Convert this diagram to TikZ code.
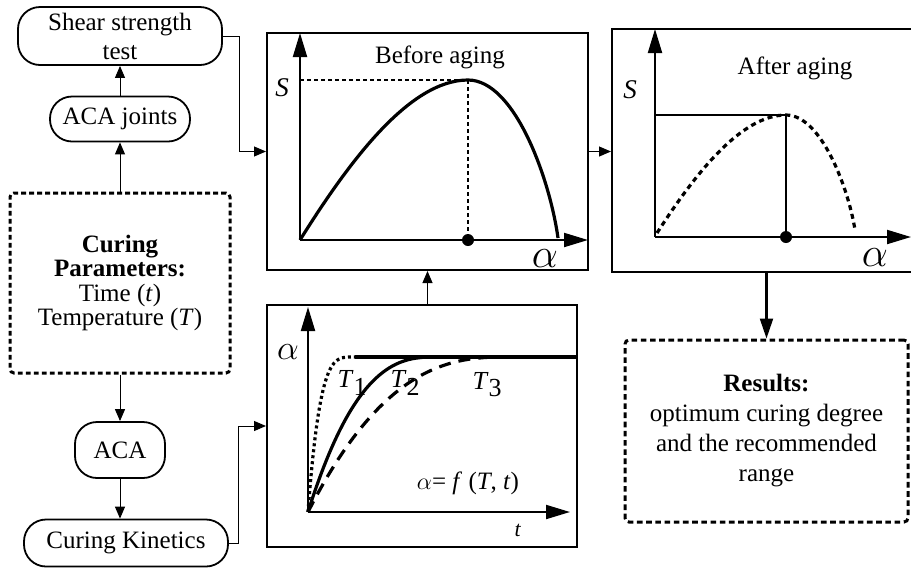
\documentclass[tikz,border=0pt]{standalone}
\usepackage{fontspec}
\setmainfont{Liberation Serif}
\usetikzlibrary{arrows.meta}
\tikzset{
  pill/.style={draw, rectangle, rounded corners=11pt, line width=0.9pt, align=center, inner sep=2pt},
  dashbox/.style={draw, line width=1.5pt, dash pattern=on 2.4pt off 1.6pt, rounded corners=2pt, align=center},
  frame/.style={draw, line width=1pt, inner sep=0pt},
  conn/.style={-{Triangle[length=6pt,width=5pt]}, line width=0.5pt},
  axis/.style={-{Triangle[length=12pt,width=7pt]}, line width=1pt},
  curve/.style={line width=1.6pt},
  dotline/.style={dash pattern=on 2pt off 1.5pt, line width=0.9pt},
}
\begin{document}
\begin{tikzpicture}[x=0.5pt,y=-0.5pt,font=\fontsize{12.5}{14.5}\selectfont]
\useasboundingbox (0,0) rectangle (911,580);
% left column
\node[pill, minimum width=102pt, minimum height=29pt] (shear) at (120,36) {Shear strength\\test};
\node[pill, minimum width=70pt, minimum height=22.5pt] (joints) at (120,119) {ACA joints};
\node[dashbox, minimum width=110pt, minimum height=90pt, font=\fontsize{12.5}{12.2}\selectfont] (param) at (120,283)
  {\textbf{Curing}\\\textbf{Parameters:}\\Time (\textit{t})\\Temperature (\textit{T})};
\node[pill, minimum width=45pt, minimum height=28pt] (aca) at (120,450) {ACA};
\node[pill, minimum width=102pt, minimum height=23.5pt] (kin) at (126,543) {Curing Kinetics};
% frames
\node[frame, minimum width=160.5pt, minimum height=118.5pt] (bplot) at (427.5,151.5) {};
\node[frame, minimum width=150pt, minimum height=121.5pt] (aplot) at (762,150.5) {};
\node[frame, minimum width=155pt, minimum height=121pt] (kplot) at (422,426) {};
\node[dashbox, dash pattern=on 2.8pt off 1.8pt, minimum width=141.5pt, minimum height=91pt, font=\fontsize{12.5}{15}\selectfont] (res) at (766.5,431)
  {\textbf{Results:}\\optimum curing degree\\and the recommended\\range};
% connectors
\draw[conn] (joints) -- (shear);
\draw[conn] (param) -- (joints);
\draw[conn] (param) -- (aca);
\draw[conn] (aca.south) -- (aca.south |- kin.north);
\draw[conn] (shear.east) -- ++(17,0) |- (bplot.west);
\draw[conn] (kin.east) -- ++(10,0) |- (kplot.west);
\draw[conn] (bplot.east) -- (bplot.east -| aplot.west);
\draw[conn] (bplot.south |- kplot.north) -- (bplot.south);
\draw[-{Triangle[length=10pt,width=6.5pt]}, line width=1.1pt] (res.north |- aplot.south) -- (res.north);
% before aging
\begin{scope}[shift={(300,240)}, yscale=-1]
\draw[axis] (0,0) -- (0,207);
\draw[axis] (0,0) -- (288,0);
\node[font=\fontsize{13.5}{13.5}\selectfont] at (-18,152) {\textit{S}};
\node[font=\fontsize{20}{20}\selectfont] at (245,-19) {$\alpha$};
\node at (140,183) {Before aging};
\draw[dotline] (0,160) -- (168,160) -- (168,0);
\draw[curve] (0,0) .. controls (50,80) and (110,160) .. (168,160) .. controls (215,160) and (250,60) .. (258,2);
\fill (168,0) circle (3pt);
\end{scope}
% after aging
\begin{scope}[shift={(655,237)}, yscale=-1]
\draw[axis] (0,0) -- (0,208);
\draw[axis] (0,0) -- (256,0);
\node[font=\fontsize{13.5}{13.5}\selectfont] at (-25,147) {\textit{S}};
\node[font=\fontsize{20}{20}\selectfont] at (220,-21) {$\alpha$};
\node at (140,169) {After aging};
\draw[line width=0.6pt] (0,122) -- (131,122) -- (131,0);
\draw[curve, dash pattern=on 2.5pt off 2pt] (2,4) .. controls (40,63) and (86,122) .. (131,122) .. controls (167,122) and (194,46) .. (200,7);
\fill (131,0) circle (3pt);
\end{scope}
% curing kinetics
\begin{scope}[shift={(308,512)}, yscale=-1]
\draw[axis] (0,0) -- (0,205);
\draw[axis] (0,0) -- (262,0);
\node[font=\fontsize{19}{19}\selectfont] at (-20,160) {$\alpha$};
\draw[curve] (47,155) -- (269,155);
\draw[curve, dash pattern=on 1.5pt off 1.5pt, domain=0:47, smooth, samples=30] plot(\x, {155*(1-(1-\x/47)^4)});
\draw[curve, domain=0:126.8, smooth, samples=40] plot(\x, {155*(1-(1-\x/127)^2.6)});
\draw[curve, dash pattern=on 6pt off 4pt, domain=0:196.8, smooth, samples=40] plot(\x, {155*(1-(1-\x/197)^2.5)});
\node[font=\fontsize{13}{13}\selectfont] at (44,129) {\textit{T}\raisebox{-0.6ex}{1}};
\node[font=\fontsize{13}{13}\selectfont] at (97,129) {\textit{T}\raisebox{-0.6ex}{2}};
\node[font=\fontsize{13}{13}\selectfont] at (179,127) {\textit{T}\raisebox{-0.6ex}{3}};
\node at (160,29) {$\alpha$= \textit{f} (\textit{T}, \textit{t})};
\node[font=\fontsize{11}{11}\selectfont] at (210,-18) {\textit{t}};
\end{scope}
\end{tikzpicture}
\end{document}
